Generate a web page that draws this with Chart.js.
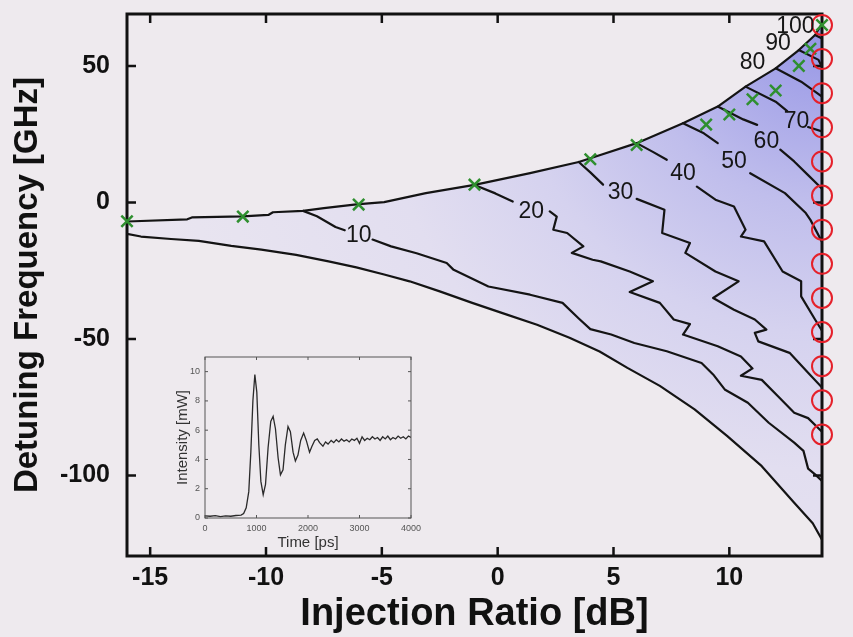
<!DOCTYPE html>
<html>
<head>
<meta charset="utf-8">
<script src="https://cdn.jsdelivr.net/npm/chart.js@4.4.1/dist/chart.umd.min.js"></script>
<style>
  html, body { margin: 0; padding: 0; background: #eeeaee; }
  #wrap { position: relative; width: 853px; height: 637px; }
  #map { position: absolute; left: 0; top: 0; }
  #pulse { position: absolute; left: 160px; top: 348px; }
</style>
</head>
<body>
<div id="wrap">
  <canvas id="map" width="853" height="637"></canvas>
  <canvas id="pulse" width="275" height="207"></canvas>
</div>
<script>
const xTicks = [-15, -10, -5, 0, 5, 10];
const yTicks = [-100, -50, 0, 50];

// edges of the locking range, [injection ratio dB, detuning GHz]
const upperEdge = [[-16, -7.0], [-13.4, -6.2], [-13.2, -5.5], [-11, -5.1], [-9.9, -4.6], [-9.7, -3.6],
  [-8.4, -3.1], [-7.5, -2.1], [-6.1, -0.7], [-4.9, 0.1], [-3.1, 3.4], [-1, 6.4], [1.4, 10.7],
  [3.5, 14.8], [4.2, 16.7], [6, 21.7], [8, 29], [9.5, 35.1], [10.7, 42.4], [12, 49.1],
  [13, 55.8], [13.7, 61.3], [14, 65.5]];
const lowerEdge = [[-16, -11.5], [-15.4, -12.5], [-14.1, -13.4], [-12.9, -14.1], [-11.5, -15.9],
  [-10.2, -17.3], [-8.7, -19.2], [-7.3, -21.6], [-6.1, -23.8], [-4.9, -26.4], [-3.8, -28.9],
  [-2.5, -32.6], [-1.1, -36.8], [0.4, -41.1], [1.7, -44.8], [3.1, -49.6], [4.4, -54.6],
  [5.6, -60.6], [7.0, -67.2], [8.5, -75.8], [9.9, -85.5], [11.4, -96.6], [12.8, -110],
  [13.6, -117.5], [14, -123.5]];

// level contours; a null leaves the gap where the level number sits
const level10 = [[-8.4, -3.1], [-7.8, -5.1], [-7.0, -9.0], [-6.6, -10.2], null,
  [-5.4, -13.6], [-4.6, -16.1], [-3.5, -18.6], [-2.2, -22.2], [-1.9, -24.7], [-0.4, -30.8],
  [1.4, -33.8], [2.8, -36.8], [3.5, -42.5], [4.0, -46.4], [4.9, -48.4], [5.9, -51.5],
  [7.3, -54.5], [8.8, -58.8], [9.3, -63], [9.8, -68.5], [10.8, -73.4], [11.7, -80.7],
  [12.8, -88], [13.2, -91], [13.4, -97.5], [13.7, -99.6], [14, -102]];
const level20 = [[-1, 6.4], [-0.1, 3.3], [0.65, 0.3], null,
  [2.25, -3.3], [2.55, -5.2], [2.4, -10], [3.0, -11.2], [3.7, -16.1], [3.2, -18.5], [4.1, -21],
  [4.45, -21.6], [5.7, -25.3], [6.7, -28.9], [5.7, -32.8], [7.0, -36.8], [7.6, -42.9],
  [8.3, -44.6], [8.0, -48.4], [9.5, -52.7], [10.5, -56.4], [11.0, -60.8], [10.5, -63.5],
  [11.4, -65], [12.1, -71], [12.8, -77], [13.4, -79], [14, -84]];
const level30 = [[3.5, 14.8], [4.0, 11], [4.55, 6.5], null,
  [6.0, 1.3], [7.2, -2.7], [7.1, -11.2], [8.3, -14.9], [8.1, -18.5], [9.4, -25.3], [10.4, -28.9],
  [9.3, -35], [10.2, -39.3], [11.1, -42.9], [11.6, -46.6], [11.1, -47.8], [11.25, -50.9],
  [12.6, -55.1], [13.4, -62.4], [14, -67.8]];
const level40 = [[6.0, 21.7], [6.7, 18.5], [7.3, 15.6], null,
  [8.6, 5.8], [9.4, 1], [10.2, -1.5], [10.7, -10], [10.5, -12.5], [11.5, -14.3], [12.3, -25.3],
  [13.1, -28.9], [13.1, -34.4], [13.7, -42.9], [14, -47]];
const level50 = [[8.0, 29], [8.9, 25.3], [9.5, 21.7], null,
  [10.9, 10.7], [12.4, 3.4], [13.3, -3.9], [13.5, -6.4], [14, -14.5]];
const level60 = [[9.5, 35.1], [10.6, 30.4], [11.2, 28.4], null,
  [12.2, 19.3], [12.8, 15], [13.4, 10], [14, 5]];
const level70 = [[10.7, 42.4], [12.0, 36.9], [12.5, 33.4], null, [13.4, 27.6], [14, 26]];
const level80 = [[12.0, 49.1], [13.1, 44.2], [13.7, 40.6], [14, 38.7]];
const level90 = [[13.0, 55.8], [13.85, 52.2], [14, 49.5]];
const level100 = [[13.7, 61.3], [14, 60]];

const levelNames = ['10', '20', '30', '40', '50', '60', '70', '80', '90', '100'];
const levelLabelX = [-6.0, 1.45, 5.3, 8.0, 10.2, 11.6, 12.9, 11.0, 12.1, 12.85];
const levelLabelY = [-12.3, -3.3, 3.4, 10.7, 15.0, 22.3, 29.6, 51.0, 58.3, 64.3];

// simulated points (green crosses) and measured points on the right edge (red circles)
const crossX = [-16, -11, -6, -1, 4, 6, 9, 10, 11, 12, 13, 13.5, 14];
const crossY = [-6.9, -5.2, -0.8, 6.5, 15.8, 21, 28.5, 32.2, 37.8, 41, 50, 56.3, 65];
const circleX = 14;
const circleY = [65, 52.5, 40, 27.5, 15, 2.5, -10, -22.5, -35, -47.5, -60, -72.5, -85];

// inset: output power after switch-on
const pulseXTicks = [0, 1000, 2000, 3000, 4000];
const pulseYTicks = [0, 2, 4, 6, 8, 10];
const pulseTime = [0, 100, 200, 300, 400, 500, 600, 700, 750, 800, 850, 890, 930, 968, 1006,
  1045, 1085, 1130, 1175, 1225, 1277, 1323, 1368, 1420, 1465, 1515, 1560, 1612, 1658, 1710,
  1755, 1805, 1858, 1915, 1967, 2030, 2077, 2130, 2180, 2225, 2290, 2340, 2390, 2450, 2500,
  2550, 2600, 2650, 2700, 2750, 2800, 2850, 2900, 2950, 3000, 3050, 3100, 3150, 3200, 3250,
  3300, 3350, 3400, 3450, 3500, 3550, 3600, 3650, 3700, 3750, 3800, 3850, 3900, 3950, 4000];
const pulsePower = [0.15, 0.12, 0.16, 0.1, 0.14, 0.12, 0.17, 0.2, 0.3, 0.7, 1.8, 4.5, 8.0, 9.8, 8.6,
  5.0, 2.5, 1.6, 2.3, 4.8, 6.6, 6.95, 6.1, 4.1, 2.95, 3.3, 5.0, 6.25, 5.9, 4.5,
  3.9, 4.3, 5.3, 5.8, 5.3, 4.5, 4.9, 5.3, 5.4, 5.15, 4.9, 5.2, 5.05, 5.3, 5.15,
  5.35, 5.2, 5.4, 5.25, 5.35, 5.2, 5.4, 5.3, 5.45, 5.1, 5.55, 5.3, 5.45, 5.35, 5.55,
  5.4, 5.5, 5.3, 5.55, 5.4, 5.6, 5.35, 5.5, 5.4, 5.6, 5.45, 5.55, 5.4, 5.6, 5.5];

const FONT = '"Liberation Sans", Arial, Helvetica, sans-serif';

function pieces(points) {
  const out = [[]];
  points.forEach(p => {
    if (p === null) out.push([]);
    else out[out.length - 1].push({x: p[0], y: p[1]});
  });
  return out;
}

// fixed axis box sizes, no extra room reserved for end labels
function fixWidth(w) {
  return s => { s.width = w; s.paddingTop = 0; s.paddingBottom = 0; };
}
function fixHeight(h) {
  return s => { s.height = h; s.paddingLeft = 0; s.paddingRight = 0; };
}

// shading grows toward the upper right corner
function lockShade(context) {
  const chart = context.chart;
  const a = chart.chartArea;
  if (!a) return 'rgba(0,0,0,0)';
  const g = chart.ctx.createRadialGradient(a.right, a.top, 0, a.right, a.top, 760);
  g.addColorStop(0, 'rgb(145,145,228)');
  g.addColorStop(0.1, 'rgb(165,164,232)');
  g.addColorStop(0.25, 'rgb(192,190,236)');
  g.addColorStop(0.42, 'rgb(213,210,239)');
  g.addColorStop(0.6, 'rgb(226,222,240)');
  g.addColorStop(1, 'rgb(235,231,240)');
  return g;
}

// box with inward ticks on all four sides
const framePlugin = {
  id: 'frame',
  afterDatasetDraw(chart, args, opts) {
    if (args.index !== opts.after) return;
    const {ctx, chartArea: a, scales} = chart;
    ctx.save();
    ctx.strokeStyle = opts.color;
    ctx.lineWidth = opts.width;
    ctx.strokeRect(a.left, a.top, a.right - a.left, a.bottom - a.top);
    ctx.lineWidth = opts.tickWidth;
    ctx.beginPath();
    scales.x.ticks.forEach(t => {
      const px = scales.x.getPixelForValue(t.value);
      ctx.moveTo(px, a.bottom); ctx.lineTo(px, a.bottom - opts.tick);
      ctx.moveTo(px, a.top); ctx.lineTo(px, a.top + opts.tick);
    });
    scales.y.ticks.forEach(t => {
      const py = scales.y.getPixelForValue(t.value);
      ctx.moveTo(a.left, py); ctx.lineTo(a.left + opts.tick, py);
      ctx.moveTo(a.right, py); ctx.lineTo(a.right - opts.tick, py);
    });
    ctx.stroke();
    ctx.restore();
  }
};

const levelLabelPlugin = {
  id: 'levelLabels',
  afterDatasetsDraw(chart) {
    const {ctx, scales: {x, y}} = chart;
    ctx.save();
    ctx.font = '23px ' + FONT;
    ctx.fillStyle = '#161616';
    ctx.textAlign = 'center';
    ctx.textBaseline = 'middle';
    levelNames.forEach((t, i) => {
      ctx.fillText(t, x.getPixelForValue(levelLabelX[i]), y.getPixelForValue(levelLabelY[i]));
    });
    ctx.restore();
  }
};

const contourSets = [upperEdge, lowerEdge, level10, level20, level30, level40, level50,
  level60, level70, level80, level90, level100].flatMap(pieces).map(d => ({
  data: d,
  borderColor: '#141414',
  borderWidth: 2.2,
  borderJoinStyle: 'round',
  borderCapStyle: 'round',
  pointRadius: 0,
  fill: false,
  order: 1
}));

const mapDatasets = [
  {
    data: circleY.map(v => ({x: circleX, y: v})),
    showLine: false,
    pointStyle: 'circle',
    pointRadius: 10,
    pointBorderWidth: 2,
    pointBorderColor: '#e5202a',
    pointBackgroundColor: 'rgba(0,0,0,0)',
    clip: false,
    order: 0
  },
  {
    data: crossX.map((v, i) => ({x: v, y: crossY[i]})),
    showLine: false,
    pointStyle: 'crossRot',
    pointRadius: 8,
    pointBorderWidth: 2.5,
    pointBorderColor: '#2f8f2f',
    clip: false,
    order: 0
  },
  ...contourSets,
  {
    data: upperEdge.concat(lowerEdge.slice().reverse()).map(p => ({x: p[0], y: p[1]})),
    fill: 'shape',
    backgroundColor: lockShade,
    borderColor: 'rgba(0,0,0,0)',
    borderWidth: 1,
    pointRadius: 0,
    order: 2
  }
];

new Chart(document.getElementById('map'), {
  type: 'line',
  data: {datasets: mapDatasets},
  plugins: [framePlugin, levelLabelPlugin],
  options: {
    responsive: false,
    animation: false,
    events: [],
    layout: {padding: {left: 0, right: 31, top: 14, bottom: 0}},
    plugins: {
      legend: {display: false},
      tooltip: {enabled: false},
      frame: {after: mapDatasets.length - 1, color: '#111', width: 3, tick: 9, tickWidth: 2.5}
    },
    scales: {
      x: {
        type: 'linear',
        min: -16,
        max: 14,
        afterBuildTicks: s => { s.ticks = xTicks.map(v => ({value: v})); },
        afterFit: fixHeight(81),
        grid: {display: false, drawTicks: false},
        border: {display: false},
        ticks: {color: '#111', padding: 7, font: {family: FONT, size: 25, weight: 'bold'}},
        title: {
          display: true,
          text: 'Injection Ratio [dB]',
          color: '#111',
          padding: {top: 0, bottom: 0},
          font: {family: FONT, size: 38, weight: 'bold'}
        }
      },
      y: {
        type: 'linear',
        min: -129.5,
        max: 69,
        afterBuildTicks: s => { s.ticks = yTicks.map(v => ({value: v})); },
        afterFit: fixWidth(127),
        grid: {display: false, drawTicks: false},
        border: {display: false},
        ticks: {color: '#111', padding: 17, font: {family: FONT, size: 25, weight: 'bold'}},
        title: {
          display: true,
          text: 'Detuning Frequency [GHz]',
          color: '#111',
          padding: {top: 8, bottom: 0},
          font: {family: FONT, size: 33, weight: 'bold'}
        }
      }
    }
  }
});

new Chart(document.getElementById('pulse'), {
  type: 'line',
  data: {
    datasets: [{
      data: pulseTime.map((t, i) => ({x: t, y: pulsePower[i]})),
      borderColor: '#2a2a2a',
      borderWidth: 1.3,
      pointRadius: 0,
      fill: false
    }]
  },
  plugins: [framePlugin],
  options: {
    responsive: false,
    animation: false,
    events: [],
    layout: {padding: {left: 0, right: 24, top: 9, bottom: 0}},
    plugins: {
      legend: {display: false},
      tooltip: {enabled: false},
      frame: {after: 0, color: '#555', width: 1, tick: 3, tickWidth: 1}
    },
    scales: {
      x: {
        type: 'linear',
        min: 0,
        max: 4000,
        afterBuildTicks: s => { s.ticks = pulseXTicks.map(v => ({value: v})); },
        afterFit: fixHeight(37),
        grid: {display: false, drawTicks: false},
        border: {display: false},
        ticks: {color: '#555', padding: 5, font: {family: FONT, size: 9}, callback: v => String(v)},
        title: {
          display: true,
          text: 'Time [ps]',
          color: '#333',
          padding: {top: 0, bottom: 3},
          font: {family: FONT, size: 15}
        }
      },
      y: {
        type: 'linear',
        min: 0,
        max: 11,
        afterBuildTicks: s => { s.ticks = pulseYTicks.map(v => ({value: v})); },
        afterFit: fixWidth(45),
        grid: {display: false, drawTicks: false},
        border: {display: false},
        ticks: {color: '#555', padding: 5, font: {family: FONT, size: 9}},
        title: {
          display: true,
          text: 'Intensity [mW]',
          color: '#333',
          padding: {top: 14, bottom: 0},
          font: {family: FONT, size: 15}
        }
      }
    }
  }
});
</script>
</body>
</html>
